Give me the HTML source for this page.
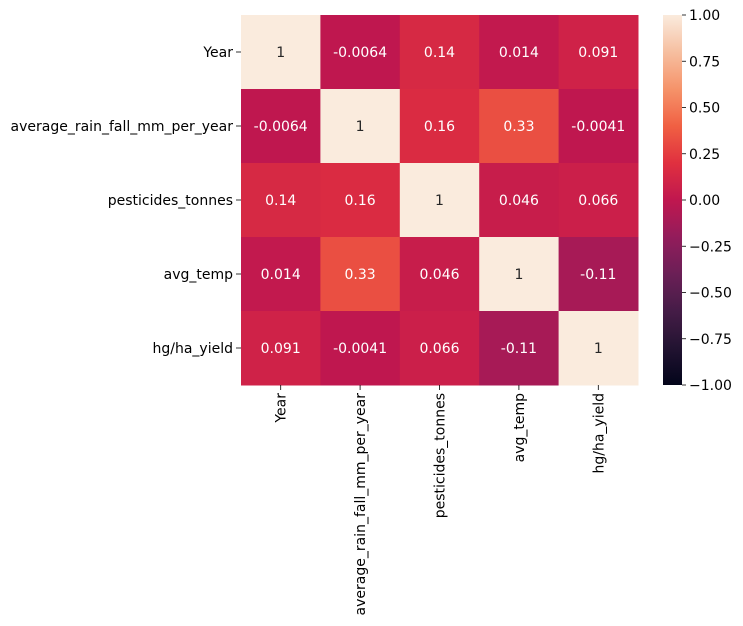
<!DOCTYPE html>
<html><head><meta charset="utf-8"><style>
html,body{margin:0;padding:0;background:#fff;width:743px;height:626px;overflow:hidden}
svg text{font-family:"DejaVu Sans","Liberation Sans",sans-serif;font-size:14px}
</style></head><body>
<svg id="chart" width="743" height="626" xmlns="http://www.w3.org/2000/svg">
<defs><linearGradient id="cbgrad" x1="0" y1="1" x2="0" y2="0"></linearGradient></defs>
<g id="cells"></g><g id="labels"></g><g id="cbar"></g>
</svg>
<script>
const labels = ["Year","average_rain_fall_mm_per_year","pesticides_tonnes","avg_temp","hg/ha_yield"];
const row0 = [1,-0.0064,0.14,0.014,0.091];
const row1 = [-0.0064,1,0.16,0.33,-0.0041];
const row2 = [0.14,0.16,1,0.046,0.066];
const row3 = [0.014,0.33,0.046,1,-0.11];
const row4 = [0.091,-0.0041,0.066,-0.11,1];
const matrix = [row0,row1,row2,row3,row4];
const cbTicks = [1,0.75,0.5,0.25,0,-0.25,-0.5,-0.75,-1];
const cbTickLabels = ["1.00","0.75","0.50","0.25","0.00","\u22120.25","\u22120.50","\u22120.75","\u22121.00"];

const NS="http://www.w3.org/2000/svg";
const L=241,T=15,W=397,H=370,n=labels.length,cw=W/n,ch=H/n;
const CBX=663,CBW=19;
const stops=[[0,"#03051A"],[0.1,"#221331"],[0.2,"#451C47"],[0.3,"#6B1F56"],[0.4,"#931C5B"],[0.5,"#C0174F"],[0.6,"#E0303F"],[0.7,"#F06043"],[0.8,"#F5936A"],[0.9,"#F6BFA0"],[1,"#FAEBDD"]];
function hex(h){return [1,3,5].map(i=>parseInt(h.substr(i,2),16));}
function cmap(v){let t=(v+1)/2;t=Math.max(0,Math.min(1,t));
 for(let i=0;i<stops.length-1;i++){const a=stops[i],b=stops[i+1];if(t<=b[0]){const f=(t-a[0])/(b[0]-a[0]);const A=hex(a[1]),B=hex(b[1]);return A.map((x,k)=>Math.round(x+(B[k]-x)*f));}}
 return hex(stops[stops.length-1][1]);}
function lin(c){c/=255;return c<=0.03928?c/12.92:Math.pow((c+0.055)/1.055,2.4);}
function xs(i){return L+i*cw;} function ys(i){return T+i*ch;}
function cy(v){return T+(1-v)/2*H;}
function mk(tag,attrs,parent){const e=document.createElementNS(NS,tag);for(const k in attrs)e.setAttribute(k,attrs[k]);parent.appendChild(e);return e;}
const gc=document.getElementById("cells"),gl=document.getElementById("labels"),gb=document.getElementById("cbar");
matrix.forEach((row,r)=>row.forEach((v,c)=>{
 const col=cmap(v);
 const rect=mk("rect",{x:xs(c),y:ys(r),width:cw+0.5,height:ch+0.5,fill:`rgb(${col})`},gc);
 
 
 const lum=0.2126*lin(col[0])+0.7152*lin(col[1])+0.0722*lin(col[2]);
 const t=mk("text",{x:xs(c)+cw/2,y:ys(r)+ch/2+5,"text-anchor":"middle",fill:lum>0.408?"#262626":"#ffffff"},gc);
 t.textContent=String(v);
 
 
}));
labels.forEach((lab,i)=>{
 const y=ys(i)+ch/2;
 mk("line",{x1:L-5,x2:L,y1:y,y2:y,stroke:"#000","stroke-width":0.8},gl);
 const t=mk("text",{x:L-8,y:y+5,"text-anchor":"end",fill:"#000"},gl);
 t.textContent=lab;
 
 
 const x=xs(i)+cw/2;
 mk("line",{x1:x,x2:x,y1:T+H,y2:T+H+5,stroke:"#000","stroke-width":0.8},gl);
 const tx=mk("text",{x:0,y:0,"text-anchor":"end",fill:"#000",transform:`translate(${x+5},${T+H+8}) rotate(-90)`},gl);
 tx.textContent=lab;
 
 
});
const grad=document.getElementById("cbgrad");
for(let i=0;i<=20;i++){const v=-1+i*0.1;mk("stop",{offset:(i/20),"stop-color":`rgb(${cmap(v)})`},grad);}
const cb=mk("rect",{x:CBX,y:T,width:CBW,height:H,fill:"url(#cbgrad)"},gb);


cbTicks.forEach((v,i)=>{
 const y=cy(v);
 mk("line",{x1:CBX+CBW,x2:CBX+CBW+4,y1:y,y2:y,stroke:"#000","stroke-width":0.8},gb);
 const t=mk("text",{x:CBX+CBW+7,y:y+5,fill:"#000"},gb);
 t.textContent=cbTickLabels[i];
 
 
});
</script>
</body></html>
